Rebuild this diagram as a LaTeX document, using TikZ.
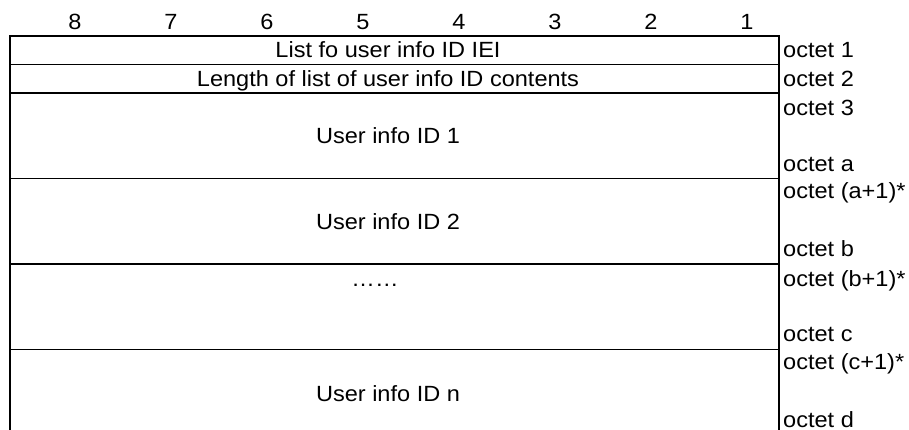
\documentclass[tikz,border=0pt]{standalone}
\usepackage{fontspec}
\setmainfont[FakeStretch=1.07]{Liberation Sans}
\begin{document}
\begin{tikzpicture}[x=1pt,y=-1pt,
  rule/.style={line width=1.5pt},
  lbl/.style={inner sep=0pt,anchor=base,font=\fontsize{22}{26}\selectfont},
  oct/.style={inner sep=0pt,anchor=base west,font=\fontsize{22}{26}\selectfont}]
\useasboundingbox (0,0) rectangle (909,430);
% bit numbers
\foreach \i in {8,...,1}{
  \node[lbl] (b\i) at ({75+96*(8-\i)},30) {\i};
}
% table lines
\draw[rule] (10,36) -- (779,36);
\draw[rule] (10,64.5) -- (779,64.5);
\draw[rule] (10,93) -- (779,93);
\draw[rule] (10,178.5) -- (779,178.5);
\draw[rule] (10,264) -- (779,264);
\draw[rule] (10,349.5) -- (779,349.5);
\draw[rule] (10,35.25) -- (10,435);
\draw[rule] (779,35.25) -- (779,435);
% contents
\node[lbl] (t1) at (388,58) {List fo user info ID IEI};
\node[lbl] (t2) at (388,86.5) {Length of list of user info ID contents};
\node[lbl] (t3) at (388,144) {User info ID 1};
\node[lbl] (t4) at (388,229.5) {User info ID 2};
\node[lbl] (t5) at (375,286.5) {……};
\node[lbl] (t6) at (388,401) {User info ID n};
% octet labels
\node[oct] (o1) at (783,58) {octet 1};
\node[oct] (o2) at (783,86.5) {octet 2};
\node[oct] (o3) at (783,115.5) {octet 3};
\node[oct] (oa) at (783,171.5) {octet a};
\node[oct] (oa1) at (783,199) {octet (a+1)*};
\node[oct] (ob) at (783,256.5) {octet b};
\node[oct] (ob1) at (783,286.5) {octet (b+1)*};
\node[oct] (oc) at (783,341.5) {octet c};
\node[oct] (oc1) at (783,369) {octet (c+1)*};
\node[oct] (od) at (783,427) {octet d};
\end{tikzpicture}
\end{document}
